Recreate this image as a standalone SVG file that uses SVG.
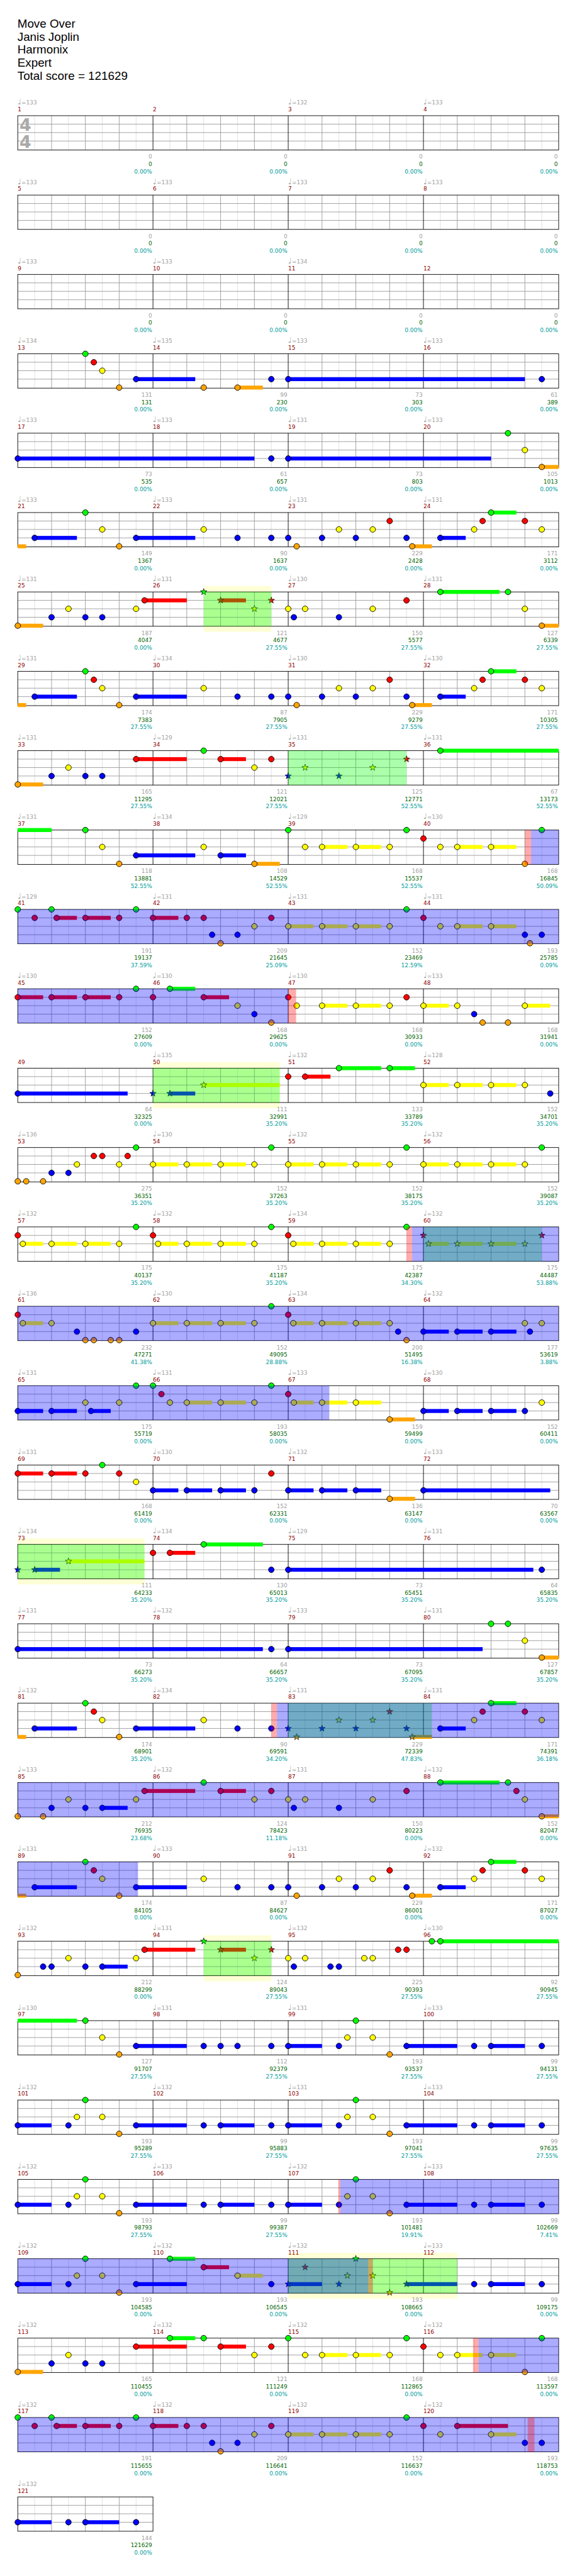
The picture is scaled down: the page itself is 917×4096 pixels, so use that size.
<svg xmlns="http://www.w3.org/2000/svg" xmlns:xlink="http://www.w3.org/1999/xlink" width="917" height="4096" viewBox="0 0 917 4096">
<style>
.t{font-family:"DejaVu Sans",sans-serif;font-size:10px}
.ti{font-family:"Liberation Sans",Arial,sans-serif;font-size:21px;fill:#000}
.tp{fill:#a0a0a0}
.q{font-size:14px}
.mn{fill:#8b0000}
.sc{text-anchor:end}
.s1{fill:#a0a0a0}
.s2{fill:#006400}
.s3{fill:#009c9c}
.ts{font-family:"DejaVu Sans",sans-serif;font-weight:bold;font-size:30px;fill:#aaaaaa}
.gl{stroke:#dddddd;stroke-width:1;fill:none}
.gd{stroke:#999999;stroke-width:1;fill:none}
.gb{stroke:#000;stroke-width:1;fill:none}
.g{fill:#00ff00}.r{fill:#ff0000}.y{fill:#ffff00}.b{fill:#0000ff}.o{fill:#ffa500}
.od{fill:#0000ff;fill-opacity:.33}
.sp{fill:#00ff00;fill-opacity:.33}
.pk{fill:#ff0000;fill-opacity:.33}
.ye{fill:#ffffd6}
</style>
<defs>
<circle id="c" r="5" stroke="#000" stroke-width="1"/>
<path id="s" d="M0,-6L1.411,-1.942L5.706,-1.854L2.283,0.742L3.527,4.854L0,2.4L-3.527,4.854L-2.283,0.742L-5.706,-1.854L-1.411,-1.942Z" stroke="#000" stroke-width="0.8"/>
<g id="grid">
<path class="gl" d="M30 0V61M90 0V61M150 0V61M210 0V61M270 0V61M330 0V61M390 0V61M450 0V61M510 0V61M570 0V61M630 0V61M690 0V61M750 0V61M810 0V61M870 0V61M930 0V61"/>
<path class="gd" d="M0 15H960M0 30H960M0 45H960M60 0V61M120 0V61M180 0V61M300 0V61M360 0V61M420 0V61M540 0V61M600 0V61M660 0V61M780 0V61M840 0V61M900 0V61"/>
<path class="gb" d="M240 0V61M480 0V61M720 0V61"/>
<rect class="gb" x="0" y="0" width="960" height="61"/>
</g>
<g id="grid1">
<path class="gl" d="M30 0V61M90 0V61M150 0V61M210 0V61"/>
<path class="gd" d="M0 15H240M0 30H240M0 45H240M60 0V61M120 0V61M180 0V61"/>
<rect class="gb" x="0" y="0" width="240" height="61"/>
</g>
</defs>
<rect width="917" height="4096" fill="#fff"/>
<g transform="scale(0.8955 0.8951)">
<g id="title" class="ti">
<text x="31" y="49.5">Move Over</text>
<text x="31" y="72.5">Janis Joplin</text>
<text x="31" y="95.5">Harmonix</text>
<text x="31" y="118.5">Expert</text>
<text x="31" y="141.5">Total score = 121629</text>
</g>

<g id="row1" transform="translate(31.5,205.5)" class="t">
<use href="#grid"/>
<text class="ts" x="3" y="26.5">4</text><text class="ts" x="3" y="56.5">4</text>
<text class="tp" x="0" y="-19.5"><tspan class="q">♩</tspan>=133</text>
<text class="tp" x="480" y="-19.5"><tspan class="q">♩</tspan>=132</text>
<text class="tp" x="720" y="-19.5"><tspan class="q">♩</tspan>=133</text>
<text class="mn" x="0" y="-7.5">1</text><text class="mn" x="240" y="-7.5">2</text><text class="mn" x="480" y="-7.5">3</text><text class="mn" x="720" y="-7.5">4</text>
<text class="sc" y="76.5"><tspan class="s1" x="238.5">0</tspan><tspan class="s2" x="238.5" dy="13">0</tspan><tspan class="s3" x="238.5" dy="13">0.00%</tspan></text>
<text class="sc" y="76.5"><tspan class="s1" x="478.5">0</tspan><tspan class="s2" x="478.5" dy="13">0</tspan><tspan class="s3" x="478.5" dy="13">0.00%</tspan></text>
<text class="sc" y="76.5"><tspan class="s1" x="718.5">0</tspan><tspan class="s2" x="718.5" dy="13">0</tspan><tspan class="s3" x="718.5" dy="13">0.00%</tspan></text>
<text class="sc" y="76.5"><tspan class="s1" x="958.5">0</tspan><tspan class="s2" x="958.5" dy="13">0</tspan><tspan class="s3" x="958.5" dy="13">0.00%</tspan></text>
</g>

<g id="row2" transform="translate(31.5,346.5)" class="t">
<use href="#grid"/>
<text class="tp" x="0" y="-19.5"><tspan class="q">♩</tspan>=133</text>
<text class="tp" x="240" y="-19.5"><tspan class="q">♩</tspan>=133</text>
<text class="tp" x="480" y="-19.5"><tspan class="q">♩</tspan>=133</text>
<text class="tp" x="720" y="-19.5"><tspan class="q">♩</tspan>=133</text>
<text class="mn" x="0" y="-7.5">5</text><text class="mn" x="240" y="-7.5">6</text><text class="mn" x="480" y="-7.5">7</text><text class="mn" x="720" y="-7.5">8</text>
<text class="sc" y="76.5"><tspan class="s1" x="238.5">0</tspan><tspan class="s2" x="238.5" dy="13">0</tspan><tspan class="s3" x="238.5" dy="13">0.00%</tspan></text>
<text class="sc" y="76.5"><tspan class="s1" x="478.5">0</tspan><tspan class="s2" x="478.5" dy="13">0</tspan><tspan class="s3" x="478.5" dy="13">0.00%</tspan></text>
<text class="sc" y="76.5"><tspan class="s1" x="718.5">0</tspan><tspan class="s2" x="718.5" dy="13">0</tspan><tspan class="s3" x="718.5" dy="13">0.00%</tspan></text>
<text class="sc" y="76.5"><tspan class="s1" x="958.5">0</tspan><tspan class="s2" x="958.5" dy="13">0</tspan><tspan class="s3" x="958.5" dy="13">0.00%</tspan></text>
</g>

<g id="row3" transform="translate(31.5,487.5)" class="t">
<use href="#grid"/>
<text class="tp" x="0" y="-19.5"><tspan class="q">♩</tspan>=133</text>
<text class="tp" x="240" y="-19.5"><tspan class="q">♩</tspan>=133</text>
<text class="tp" x="480" y="-19.5"><tspan class="q">♩</tspan>=134</text>
<text class="mn" x="0" y="-7.5">9</text><text class="mn" x="240" y="-7.5">10</text><text class="mn" x="480" y="-7.5">11</text><text class="mn" x="720" y="-7.5">12</text>
<text class="sc" y="76.5"><tspan class="s1" x="238.5">0</tspan><tspan class="s2" x="238.5" dy="13">0</tspan><tspan class="s3" x="238.5" dy="13">0.00%</tspan></text>
<text class="sc" y="76.5"><tspan class="s1" x="478.5">0</tspan><tspan class="s2" x="478.5" dy="13">0</tspan><tspan class="s3" x="478.5" dy="13">0.00%</tspan></text>
<text class="sc" y="76.5"><tspan class="s1" x="718.5">0</tspan><tspan class="s2" x="718.5" dy="13">0</tspan><tspan class="s3" x="718.5" dy="13">0.00%</tspan></text>
<text class="sc" y="76.5"><tspan class="s1" x="958.5">0</tspan><tspan class="s2" x="958.5" dy="13">0</tspan><tspan class="s3" x="958.5" dy="13">0.00%</tspan></text>
</g>

<g id="row4" transform="translate(31.5,628.5)" class="t">
<use href="#grid"/>
<text class="tp" x="0" y="-19.5"><tspan class="q">♩</tspan>=134</text>
<text class="tp" x="240" y="-19.5"><tspan class="q">♩</tspan>=135</text>
<text class="tp" x="480" y="-19.5"><tspan class="q">♩</tspan>=133</text>
<text class="tp" x="720" y="-19.5"><tspan class="q">♩</tspan>=133</text>
<text class="mn" x="0" y="-7.5">13</text><text class="mn" x="240" y="-7.5">14</text><text class="mn" x="480" y="-7.5">15</text><text class="mn" x="720" y="-7.5">16</text>
<text class="sc" y="76.5"><tspan class="s1" x="238.5">131</tspan><tspan class="s2" x="238.5" dy="13">131</tspan><tspan class="s3" x="238.5" dy="13">0.00%</tspan></text>
<text class="sc" y="76.5"><tspan class="s1" x="478.5">99</tspan><tspan class="s2" x="478.5" dy="13">230</tspan><tspan class="s3" x="478.5" dy="13">0.00%</tspan></text>
<text class="sc" y="76.5"><tspan class="s1" x="718.5">73</tspan><tspan class="s2" x="718.5" dy="13">303</tspan><tspan class="s3" x="718.5" dy="13">0.00%</tspan></text>
<text class="sc" y="76.5"><tspan class="s1" x="958.5">61</tspan><tspan class="s2" x="958.5" dy="13">389</tspan><tspan class="s3" x="958.5" dy="13">0.00%</tspan></text>
<rect class="b" x="210" y="41.5" width="105" height="7"/><rect class="o" x="390" y="56.5" width="45" height="7"/><rect class="b" x="480" y="41.5" width="420" height="7"/>
<use href="#c" class="g" x="120" y="0"/><use href="#c" class="r" x="135" y="15"/><use href="#c" class="y" x="150" y="30"/><use href="#c" class="o" x="180" y="60"/><use href="#c" class="b" x="210" y="45"/><use href="#c" class="o" x="330" y="60"/><use href="#c" class="o" x="390" y="60"/><use href="#c" class="b" x="450" y="45"/><use href="#c" class="b" x="480" y="45"/><use href="#c" class="b" x="930" y="45"/>
</g>

<g id="row5" transform="translate(31.5,769.5)" class="t">
<use href="#grid"/>
<text class="tp" x="0" y="-19.5"><tspan class="q">♩</tspan>=133</text>
<text class="tp" x="240" y="-19.5"><tspan class="q">♩</tspan>=133</text>
<text class="tp" x="480" y="-19.5"><tspan class="q">♩</tspan>=131</text>
<text class="tp" x="720" y="-19.5"><tspan class="q">♩</tspan>=133</text>
<text class="mn" x="0" y="-7.5">17</text><text class="mn" x="240" y="-7.5">18</text><text class="mn" x="480" y="-7.5">19</text><text class="mn" x="720" y="-7.5">20</text>
<text class="sc" y="76.5"><tspan class="s1" x="238.5">73</tspan><tspan class="s2" x="238.5" dy="13">535</tspan><tspan class="s3" x="238.5" dy="13">0.00%</tspan></text>
<text class="sc" y="76.5"><tspan class="s1" x="478.5">61</tspan><tspan class="s2" x="478.5" dy="13">657</tspan><tspan class="s3" x="478.5" dy="13">0.00%</tspan></text>
<text class="sc" y="76.5"><tspan class="s1" x="718.5">73</tspan><tspan class="s2" x="718.5" dy="13">803</tspan><tspan class="s3" x="718.5" dy="13">0.00%</tspan></text>
<text class="sc" y="76.5"><tspan class="s1" x="958.5">105</tspan><tspan class="s2" x="958.5" dy="13">1013</tspan><tspan class="s3" x="958.5" dy="13">0.00%</tspan></text>
<rect class="b" x="0" y="41.5" width="420" height="7"/><rect class="b" x="480" y="41.5" width="360" height="7"/><rect class="o" x="930" y="56.5" width="30" height="7"/>
<use href="#c" class="b" x="0" y="45"/><use href="#c" class="b" x="450" y="45"/><use href="#c" class="b" x="480" y="45"/><use href="#c" class="g" x="870" y="0"/><use href="#c" class="y" x="900" y="30"/><use href="#c" class="o" x="930" y="60"/>
</g>

<g id="row6" transform="translate(31.5,910.5)" class="t">
<use href="#grid"/>
<text class="tp" x="0" y="-19.5"><tspan class="q">♩</tspan>=133</text>
<text class="tp" x="240" y="-19.5"><tspan class="q">♩</tspan>=133</text>
<text class="tp" x="480" y="-19.5"><tspan class="q">♩</tspan>=131</text>
<text class="tp" x="720" y="-19.5"><tspan class="q">♩</tspan>=131</text>
<text class="mn" x="0" y="-7.5">21</text><text class="mn" x="240" y="-7.5">22</text><text class="mn" x="480" y="-7.5">23</text><text class="mn" x="720" y="-7.5">24</text>
<text class="sc" y="76.5"><tspan class="s1" x="238.5">149</tspan><tspan class="s2" x="238.5" dy="13">1367</tspan><tspan class="s3" x="238.5" dy="13">0.00%</tspan></text>
<text class="sc" y="76.5"><tspan class="s1" x="478.5">90</tspan><tspan class="s2" x="478.5" dy="13">1637</tspan><tspan class="s3" x="478.5" dy="13">0.00%</tspan></text>
<text class="sc" y="76.5"><tspan class="s1" x="718.5">229</tspan><tspan class="s2" x="718.5" dy="13">2428</tspan><tspan class="s3" x="718.5" dy="13">0.00%</tspan></text>
<text class="sc" y="76.5"><tspan class="s1" x="958.5">171</tspan><tspan class="s2" x="958.5" dy="13">3112</tspan><tspan class="s3" x="958.5" dy="13">0.00%</tspan></text>
<rect class="o" x="0" y="56.5" width="15" height="7"/><rect class="b" x="30" y="41.5" width="75" height="7"/><rect class="b" x="210" y="41.5" width="105" height="7"/><rect class="o" x="700" y="56.5" width="35" height="7"/><rect class="b" x="750" y="41.5" width="45" height="7"/><rect class="g" x="840" y="-3.5" width="45" height="7"/>
<use href="#c" class="b" x="30" y="45"/><use href="#c" class="g" x="120" y="0"/><use href="#c" class="y" x="150" y="30"/><use href="#c" class="o" x="180" y="60"/><use href="#c" class="b" x="210" y="45"/><use href="#c" class="y" x="330" y="30"/><use href="#c" class="b" x="390" y="45"/><use href="#c" class="b" x="450" y="45"/><use href="#c" class="b" x="480" y="45"/><use href="#c" class="o" x="495" y="60"/><use href="#c" class="b" x="540" y="45"/><use href="#c" class="y" x="570" y="30"/><use href="#c" class="b" x="600" y="45"/><use href="#c" class="y" x="630" y="30"/><use href="#c" class="r" x="660" y="15"/><use href="#c" class="b" x="690" y="45"/><use href="#c" class="o" x="700" y="60"/><use href="#c" class="b" x="750" y="45"/><use href="#c" class="y" x="810" y="30"/><use href="#c" class="r" x="825" y="15"/><use href="#c" class="g" x="840" y="0"/><use href="#c" class="r" x="900" y="15"/><use href="#c" class="y" x="930" y="30"/>
</g>

<g id="row7" transform="translate(31.5,1051.5)" class="t">
<rect class="ye" x="330" y="-10.5" width="120" height="81.5"/>
<use href="#grid"/>
<text class="tp" x="0" y="-19.5"><tspan class="q">♩</tspan>=131</text>
<text class="tp" x="240" y="-19.5"><tspan class="q">♩</tspan>=131</text>
<text class="tp" x="480" y="-19.5"><tspan class="q">♩</tspan>=130</text>
<text class="tp" x="720" y="-19.5"><tspan class="q">♩</tspan>=131</text>
<text class="mn" x="0" y="-7.5">25</text><text class="mn" x="240" y="-7.5">26</text><text class="mn" x="480" y="-7.5">27</text><text class="mn" x="720" y="-7.5">28</text>
<text class="sc" y="76.5"><tspan class="s1" x="238.5">187</tspan><tspan class="s2" x="238.5" dy="13">4047</tspan><tspan class="s3" x="238.5" dy="13">0.00%</tspan></text>
<text class="sc" y="76.5"><tspan class="s1" x="478.5">121</tspan><tspan class="s2" x="478.5" dy="13">4677</tspan><tspan class="s3" x="478.5" dy="13">27.55%</tspan></text>
<text class="sc" y="76.5"><tspan class="s1" x="718.5">150</tspan><tspan class="s2" x="718.5" dy="13">5577</tspan><tspan class="s3" x="718.5" dy="13">27.55%</tspan></text>
<text class="sc" y="76.5"><tspan class="s1" x="958.5">127</tspan><tspan class="s2" x="958.5" dy="13">6339</tspan><tspan class="s3" x="958.5" dy="13">27.55%</tspan></text>
<rect class="o" x="0" y="56.5" width="45" height="7"/><rect class="r" x="225" y="11.5" width="75" height="7"/><rect class="r" x="360" y="11.5" width="45" height="7"/><rect class="g" x="750" y="-3.5" width="105" height="7"/><rect class="o" x="930" y="56.5" width="30" height="7"/>
<use href="#c" class="o" x="0" y="60"/><use href="#c" class="b" x="60" y="45"/><use href="#c" class="y" x="90" y="30"/><use href="#c" class="b" x="120" y="45"/><use href="#c" class="b" x="150" y="45"/><use href="#c" class="y" x="210" y="30"/><use href="#c" class="r" x="225" y="15"/>
<use href="#s" class="g" x="330" y="0"/><use href="#s" class="r" x="360" y="15"/><use href="#s" class="y" x="420" y="30"/><use href="#s" class="r" x="450" y="15"/>
<use href="#c" class="y" x="480" y="30"/><use href="#c" class="b" x="490" y="45"/><use href="#c" class="y" x="510" y="30"/><use href="#c" class="b" x="570" y="45"/><use href="#c" class="y" x="630" y="30"/><use href="#c" class="r" x="690" y="15"/><use href="#c" class="g" x="750" y="0"/><use href="#c" class="g" x="870" y="0"/><use href="#c" class="y" x="900" y="30"/><use href="#c" class="o" x="930" y="60"/>
<rect class="sp" x="330" y="0" width="120" height="61"/>
</g>

<g id="row8" transform="translate(31.5,1192.5)" class="t">
<use href="#grid"/>
<text class="tp" x="0" y="-19.5"><tspan class="q">♩</tspan>=131</text>
<text class="tp" x="240" y="-19.5"><tspan class="q">♩</tspan>=134</text>
<text class="tp" x="480" y="-19.5"><tspan class="q">♩</tspan>=130</text>
<text class="tp" x="720" y="-19.5"><tspan class="q">♩</tspan>=130</text>
<text class="mn" x="0" y="-7.5">29</text><text class="mn" x="240" y="-7.5">30</text><text class="mn" x="480" y="-7.5">31</text><text class="mn" x="720" y="-7.5">32</text>
<text class="sc" y="76.5"><tspan class="s1" x="238.5">174</tspan><tspan class="s2" x="238.5" dy="13">7383</tspan><tspan class="s3" x="238.5" dy="13">27.55%</tspan></text>
<text class="sc" y="76.5"><tspan class="s1" x="478.5">87</tspan><tspan class="s2" x="478.5" dy="13">7905</tspan><tspan class="s3" x="478.5" dy="13">27.55%</tspan></text>
<text class="sc" y="76.5"><tspan class="s1" x="718.5">229</tspan><tspan class="s2" x="718.5" dy="13">9279</tspan><tspan class="s3" x="718.5" dy="13">27.55%</tspan></text>
<text class="sc" y="76.5"><tspan class="s1" x="958.5">171</tspan><tspan class="s2" x="958.5" dy="13">10305</tspan><tspan class="s3" x="958.5" dy="13">27.55%</tspan></text>
<rect class="o" x="0" y="56.5" width="15" height="7"/><rect class="b" x="30" y="41.5" width="75" height="7"/><rect class="b" x="210" y="41.5" width="90" height="7"/><rect class="o" x="700" y="56.5" width="35" height="7"/><rect class="b" x="750" y="41.5" width="45" height="7"/><rect class="g" x="840" y="-3.5" width="45" height="7"/>
<use href="#c" class="b" x="30" y="45"/><use href="#c" class="g" x="120" y="0"/><use href="#c" class="r" x="135" y="15"/><use href="#c" class="y" x="150" y="30"/><use href="#c" class="o" x="180" y="60"/><use href="#c" class="b" x="210" y="45"/><use href="#c" class="y" x="330" y="30"/><use href="#c" class="b" x="390" y="45"/><use href="#c" class="b" x="450" y="45"/><use href="#c" class="b" x="480" y="45"/><use href="#c" class="o" x="495" y="60"/><use href="#c" class="b" x="540" y="45"/><use href="#c" class="y" x="570" y="30"/><use href="#c" class="b" x="600" y="45"/><use href="#c" class="y" x="630" y="30"/><use href="#c" class="r" x="660" y="15"/><use href="#c" class="b" x="690" y="45"/><use href="#c" class="o" x="700" y="60"/><use href="#c" class="b" x="750" y="45"/><use href="#c" class="y" x="810" y="30"/><use href="#c" class="r" x="825" y="15"/><use href="#c" class="g" x="840" y="0"/><use href="#c" class="r" x="900" y="15"/><use href="#c" class="y" x="930" y="30"/>
</g>

<g id="row9" transform="translate(31.5,1333.5)" class="t">
<use href="#grid"/>
<text class="tp" x="0" y="-19.5"><tspan class="q">♩</tspan>=131</text>
<text class="tp" x="240" y="-19.5"><tspan class="q">♩</tspan>=129</text>
<text class="tp" x="480" y="-19.5"><tspan class="q">♩</tspan>=131</text>
<text class="tp" x="720" y="-19.5"><tspan class="q">♩</tspan>=131</text>
<text class="mn" x="0" y="-7.5">33</text><text class="mn" x="240" y="-7.5">34</text><text class="mn" x="480" y="-7.5">35</text><text class="mn" x="720" y="-7.5">36</text>
<text class="sc" y="76.5"><tspan class="s1" x="238.5">165</tspan><tspan class="s2" x="238.5" dy="13">11295</tspan><tspan class="s3" x="238.5" dy="13">27.55%</tspan></text>
<text class="sc" y="76.5"><tspan class="s1" x="478.5">121</tspan><tspan class="s2" x="478.5" dy="13">12021</tspan><tspan class="s3" x="478.5" dy="13">27.55%</tspan></text>
<text class="sc" y="76.5"><tspan class="s1" x="718.5">125</tspan><tspan class="s2" x="718.5" dy="13">12771</tspan><tspan class="s3" x="718.5" dy="13">52.55%</tspan></text>
<text class="sc" y="76.5"><tspan class="s1" x="958.5">67</tspan><tspan class="s2" x="958.5" dy="13">13173</tspan><tspan class="s3" x="958.5" dy="13">52.55%</tspan></text>
<rect class="o" x="0" y="56.5" width="45" height="7"/><rect class="r" x="210" y="11.5" width="90" height="7"/><rect class="r" x="360" y="11.5" width="45" height="7"/><rect class="g" x="750" y="-3.5" width="210" height="7"/>
<use href="#c" class="o" x="0" y="60"/><use href="#c" class="b" x="60" y="45"/><use href="#c" class="y" x="90" y="30"/><use href="#c" class="b" x="120" y="45"/><use href="#c" class="b" x="150" y="45"/><use href="#c" class="r" x="210" y="15"/><use href="#c" class="g" x="330" y="0"/><use href="#c" class="r" x="360" y="15"/><use href="#c" class="y" x="420" y="30"/><use href="#c" class="r" x="450" y="15"/>
<use href="#s" class="b" x="480" y="45"/><use href="#s" class="y" x="510" y="30"/><use href="#s" class="b" x="570" y="45"/><use href="#s" class="y" x="630" y="30"/><use href="#s" class="r" x="690" y="15"/>
<use href="#c" class="g" x="750" y="0"/>
<rect class="sp" x="480" y="0" width="210" height="61"/>
</g>

<g id="row10" transform="translate(31.5,1474.5)" class="t">
<use href="#grid"/>
<text class="tp" x="0" y="-19.5"><tspan class="q">♩</tspan>=131</text>
<text class="tp" x="240" y="-19.5"><tspan class="q">♩</tspan>=134</text>
<text class="tp" x="480" y="-19.5"><tspan class="q">♩</tspan>=129</text>
<text class="tp" x="720" y="-19.5"><tspan class="q">♩</tspan>=130</text>
<text class="mn" x="0" y="-7.5">37</text><text class="mn" x="240" y="-7.5">38</text><text class="mn" x="480" y="-7.5">39</text><text class="mn" x="720" y="-7.5">40</text>
<text class="sc" y="76.5"><tspan class="s1" x="238.5">118</tspan><tspan class="s2" x="238.5" dy="13">13881</tspan><tspan class="s3" x="238.5" dy="13">52.55%</tspan></text>
<text class="sc" y="76.5"><tspan class="s1" x="478.5">108</tspan><tspan class="s2" x="478.5" dy="13">14529</tspan><tspan class="s3" x="478.5" dy="13">52.55%</tspan></text>
<text class="sc" y="76.5"><tspan class="s1" x="718.5">168</tspan><tspan class="s2" x="718.5" dy="13">15537</tspan><tspan class="s3" x="718.5" dy="13">52.55%</tspan></text>
<text class="sc" y="76.5"><tspan class="s1" x="958.5">168</tspan><tspan class="s2" x="958.5" dy="13">16845</tspan><tspan class="s3" x="958.5" dy="13">50.09%</tspan></text>
<rect class="g" x="0" y="-3.5" width="60" height="7"/><rect class="b" x="210" y="41.5" width="105" height="7"/><rect class="b" x="360" y="41.5" width="45" height="7"/><rect class="o" x="420" y="56.5" width="45" height="7"/><rect class="y" x="540" y="26.5" width="45" height="7"/><rect class="y" x="600" y="26.5" width="45" height="7"/><rect class="y" x="780" y="26.5" width="45" height="7"/><rect class="y" x="840" y="26.5" width="45" height="7"/>
<use href="#c" class="g" x="120" y="0"/><use href="#c" class="y" x="150" y="30"/><use href="#c" class="o" x="180" y="60"/><use href="#c" class="b" x="210" y="45"/><use href="#c" class="y" x="330" y="30"/><use href="#c" class="b" x="360" y="45"/><use href="#c" class="o" x="420" y="60"/><use href="#c" class="g" x="480" y="0"/><use href="#c" class="y" x="510" y="30"/><use href="#c" class="y" x="540" y="30"/><use href="#c" class="y" x="600" y="30"/><use href="#c" class="y" x="660" y="30"/><use href="#c" class="g" x="690" y="0"/><use href="#c" class="r" x="720" y="15"/><use href="#c" class="y" x="750" y="30"/><use href="#c" class="y" x="780" y="30"/><use href="#c" class="y" x="840" y="30"/><use href="#c" class="o" x="900" y="60"/><use href="#c" class="g" x="930" y="0"/>
<rect class="pk" x="900" y="0" width="11" height="61"/><rect class="od" x="911" y="0" width="49" height="61"/>
</g>

<g id="row11" transform="translate(31.5,1615.5)" class="t">
<use href="#grid"/>
<text class="tp" x="0" y="-19.5"><tspan class="q">♩</tspan>=129</text>
<text class="tp" x="240" y="-19.5"><tspan class="q">♩</tspan>=131</text>
<text class="tp" x="480" y="-19.5"><tspan class="q">♩</tspan>=131</text>
<text class="tp" x="720" y="-19.5"><tspan class="q">♩</tspan>=131</text>
<text class="mn" x="0" y="-7.5">41</text><text class="mn" x="240" y="-7.5">42</text><text class="mn" x="480" y="-7.5">43</text><text class="mn" x="720" y="-7.5">44</text>
<text class="sc" y="76.5"><tspan class="s1" x="238.5">191</tspan><tspan class="s2" x="238.5" dy="13">19137</tspan><tspan class="s3" x="238.5" dy="13">37.59%</tspan></text>
<text class="sc" y="76.5"><tspan class="s1" x="478.5">209</tspan><tspan class="s2" x="478.5" dy="13">21645</tspan><tspan class="s3" x="478.5" dy="13">25.09%</tspan></text>
<text class="sc" y="76.5"><tspan class="s1" x="718.5">152</tspan><tspan class="s2" x="718.5" dy="13">23469</tspan><tspan class="s3" x="718.5" dy="13">12.59%</tspan></text>
<text class="sc" y="76.5"><tspan class="s1" x="958.5">193</tspan><tspan class="s2" x="958.5" dy="13">25785</tspan><tspan class="s3" x="958.5" dy="13">0.09%</tspan></text>
<rect class="r" x="69" y="11.5" width="36" height="7"/><rect class="r" x="120" y="11.5" width="45" height="7"/><rect class="r" x="240" y="11.5" width="45" height="7"/><rect class="y" x="480" y="26.5" width="45" height="7"/><rect class="y" x="540" y="26.5" width="45" height="7"/><rect class="y" x="600" y="26.5" width="45" height="7"/><rect class="y" x="780" y="26.5" width="45" height="7"/><rect class="y" x="840" y="26.5" width="45" height="7"/>
<use href="#c" class="g" x="0" y="0"/><use href="#c" class="r" x="30" y="15"/><use href="#c" class="g" x="60" y="0"/><use href="#c" class="r" x="69" y="15"/><use href="#c" class="r" x="120" y="15"/><use href="#c" class="r" x="180" y="15"/><use href="#c" class="g" x="210" y="0"/><use href="#c" class="r" x="240" y="15"/><use href="#c" class="r" x="300" y="15"/><use href="#c" class="r" x="330" y="15"/><use href="#c" class="b" x="345" y="45"/><use href="#c" class="o" x="360" y="60"/><use href="#c" class="b" x="390" y="45"/><use href="#c" class="y" x="420" y="30"/><use href="#c" class="r" x="450" y="15"/><use href="#c" class="y" x="480" y="30"/><use href="#c" class="y" x="540" y="30"/><use href="#c" class="y" x="600" y="30"/><use href="#c" class="y" x="660" y="30"/><use href="#c" class="g" x="690" y="0"/><use href="#c" class="r" x="720" y="15"/><use href="#c" class="y" x="750" y="30"/><use href="#c" class="y" x="780" y="30"/><use href="#c" class="y" x="840" y="30"/><use href="#c" class="b" x="900" y="45"/><use href="#c" class="o" x="909" y="60"/><use href="#c" class="b" x="930" y="45"/>
<rect class="od" x="0" y="0" width="960" height="61"/>
</g>

<g id="row12" transform="translate(31.5,1756.5)" class="t">
<use href="#grid"/>
<text class="tp" x="0" y="-19.5"><tspan class="q">♩</tspan>=130</text>
<text class="tp" x="240" y="-19.5"><tspan class="q">♩</tspan>=130</text>
<text class="tp" x="480" y="-19.5"><tspan class="q">♩</tspan>=130</text>
<text class="tp" x="720" y="-19.5"><tspan class="q">♩</tspan>=133</text>
<text class="mn" x="0" y="-7.5">45</text><text class="mn" x="240" y="-7.5">46</text><text class="mn" x="480" y="-7.5">47</text><text class="mn" x="720" y="-7.5">48</text>
<text class="sc" y="76.5"><tspan class="s1" x="238.5">152</tspan><tspan class="s2" x="238.5" dy="13">27609</tspan><tspan class="s3" x="238.5" dy="13">0.00%</tspan></text>
<text class="sc" y="76.5"><tspan class="s1" x="478.5">168</tspan><tspan class="s2" x="478.5" dy="13">29625</tspan><tspan class="s3" x="478.5" dy="13">0.00%</tspan></text>
<text class="sc" y="76.5"><tspan class="s1" x="718.5">168</tspan><tspan class="s2" x="718.5" dy="13">30933</tspan><tspan class="s3" x="718.5" dy="13">0.00%</tspan></text>
<text class="sc" y="76.5"><tspan class="s1" x="958.5">168</tspan><tspan class="s2" x="958.5" dy="13">31941</tspan><tspan class="s3" x="958.5" dy="13">0.00%</tspan></text>
<rect class="r" x="0" y="11.5" width="45" height="7"/><rect class="r" x="60" y="11.5" width="45" height="7"/><rect class="r" x="120" y="11.5" width="45" height="7"/><rect class="g" x="270" y="-3.5" width="45" height="7"/><rect class="r" x="330" y="11.5" width="45" height="7"/><rect class="y" x="540" y="26.5" width="45" height="7"/><rect class="y" x="600" y="26.5" width="45" height="7"/><rect class="y" x="720" y="26.5" width="45" height="7"/><rect class="y" x="900" y="26.5" width="45" height="7"/>
<use href="#c" class="r" x="0" y="15"/><use href="#c" class="r" x="60" y="15"/><use href="#c" class="r" x="120" y="15"/><use href="#c" class="r" x="180" y="15"/><use href="#c" class="g" x="210" y="0"/><use href="#c" class="r" x="240" y="15"/><use href="#c" class="g" x="270" y="0"/><use href="#c" class="r" x="330" y="15"/><use href="#c" class="y" x="390" y="30"/><use href="#c" class="b" x="420" y="45"/><use href="#c" class="o" x="450" y="60"/><use href="#c" class="r" x="480" y="15"/><use href="#c" class="y" x="495" y="30"/><use href="#c" class="y" x="540" y="30"/><use href="#c" class="y" x="600" y="30"/><use href="#c" class="y" x="660" y="30"/><use href="#c" class="r" x="690" y="15"/><use href="#c" class="y" x="720" y="30"/><use href="#c" class="y" x="780" y="30"/><use href="#c" class="b" x="810" y="45"/><use href="#c" class="o" x="825" y="60"/><use href="#c" class="o" x="870" y="60"/><use href="#c" class="y" x="900" y="30"/>
<rect class="od" x="0" y="0" width="480" height="61"/><rect class="pk" x="480" y="0" width="14" height="61"/>
</g>

<g id="row13" transform="translate(31.5,1897.5)" class="t">
<rect class="ye" x="240" y="-10.5" width="225" height="81.5"/>
<use href="#grid"/>
<text class="tp" x="240" y="-19.5"><tspan class="q">♩</tspan>=135</text>
<text class="tp" x="480" y="-19.5"><tspan class="q">♩</tspan>=132</text>
<text class="tp" x="720" y="-19.5"><tspan class="q">♩</tspan>=128</text>
<text class="mn" x="0" y="-7.5">49</text><text class="mn" x="240" y="-7.5">50</text><text class="mn" x="480" y="-7.5">51</text><text class="mn" x="720" y="-7.5">52</text>
<text class="sc" y="76.5"><tspan class="s1" x="238.5">64</tspan><tspan class="s2" x="238.5" dy="13">32325</tspan><tspan class="s3" x="238.5" dy="13">0.00%</tspan></text>
<text class="sc" y="76.5"><tspan class="s1" x="478.5">111</tspan><tspan class="s2" x="478.5" dy="13">32991</tspan><tspan class="s3" x="478.5" dy="13">35.20%</tspan></text>
<text class="sc" y="76.5"><tspan class="s1" x="718.5">133</tspan><tspan class="s2" x="718.5" dy="13">33789</tspan><tspan class="s3" x="718.5" dy="13">35.20%</tspan></text>
<text class="sc" y="76.5"><tspan class="s1" x="958.5">152</tspan><tspan class="s2" x="958.5" dy="13">34701</tspan><tspan class="s3" x="958.5" dy="13">35.20%</tspan></text>
<rect class="b" x="0" y="41.5" width="195" height="7"/><rect class="b" x="270" y="41.5" width="45" height="7"/><rect class="y" x="330" y="26.5" width="135" height="7"/><rect class="r" x="510" y="11.5" width="45" height="7"/><rect class="g" x="570" y="-3.5" width="75" height="7"/><rect class="g" x="660" y="-3.5" width="45" height="7"/><rect class="y" x="720" y="26.5" width="45" height="7"/><rect class="y" x="780" y="26.5" width="45" height="7"/><rect class="y" x="840" y="26.5" width="45" height="7"/>
<use href="#c" class="b" x="0" y="45"/><use href="#s" class="b" x="240" y="45"/><use href="#s" class="b" x="270" y="45"/><use href="#s" class="y" x="330" y="30"/>
<use href="#c" class="r" x="480" y="15"/><use href="#c" class="r" x="510" y="15"/><use href="#c" class="g" x="570" y="0"/><use href="#c" class="g" x="660" y="0"/><use href="#c" class="y" x="720" y="30"/><use href="#c" class="y" x="780" y="30"/><use href="#c" class="y" x="840" y="30"/><use href="#c" class="y" x="900" y="30"/><use href="#c" class="b" x="945" y="45"/>
<rect class="sp" x="240" y="0" width="225" height="61"/>
</g>

<g id="row14" transform="translate(31.5,2038.5)" class="t">
<use href="#grid"/>
<text class="tp" x="0" y="-19.5"><tspan class="q">♩</tspan>=136</text>
<text class="tp" x="240" y="-19.5"><tspan class="q">♩</tspan>=130</text>
<text class="tp" x="480" y="-19.5"><tspan class="q">♩</tspan>=132</text>
<text class="tp" x="720" y="-19.5"><tspan class="q">♩</tspan>=132</text>
<text class="mn" x="0" y="-7.5">53</text><text class="mn" x="240" y="-7.5">54</text><text class="mn" x="480" y="-7.5">55</text><text class="mn" x="720" y="-7.5">56</text>
<text class="sc" y="76.5"><tspan class="s1" x="238.5">275</tspan><tspan class="s2" x="238.5" dy="13">36351</tspan><tspan class="s3" x="238.5" dy="13">35.20%</tspan></text>
<text class="sc" y="76.5"><tspan class="s1" x="478.5">152</tspan><tspan class="s2" x="478.5" dy="13">37263</tspan><tspan class="s3" x="478.5" dy="13">35.20%</tspan></text>
<text class="sc" y="76.5"><tspan class="s1" x="718.5">152</tspan><tspan class="s2" x="718.5" dy="13">38175</tspan><tspan class="s3" x="718.5" dy="13">35.20%</tspan></text>
<text class="sc" y="76.5"><tspan class="s1" x="958.5">152</tspan><tspan class="s2" x="958.5" dy="13">39087</tspan><tspan class="s3" x="958.5" dy="13">35.20%</tspan></text>
<rect class="y" x="240" y="26.5" width="45" height="7"/><rect class="y" x="300" y="26.5" width="45" height="7"/><rect class="y" x="360" y="26.5" width="45" height="7"/><rect class="y" x="480" y="26.5" width="45" height="7"/><rect class="y" x="540" y="26.5" width="45" height="7"/><rect class="y" x="600" y="26.5" width="45" height="7"/><rect class="y" x="720" y="26.5" width="45" height="7"/><rect class="y" x="780" y="26.5" width="45" height="7"/><rect class="y" x="840" y="26.5" width="45" height="7"/>
<use href="#c" class="o" x="0" y="60"/><use href="#c" class="o" x="15" y="60"/><use href="#c" class="o" x="45" y="60"/><use href="#c" class="b" x="60" y="45"/><use href="#c" class="b" x="90" y="45"/><use href="#c" class="y" x="105" y="30"/><use href="#c" class="r" x="135" y="15"/><use href="#c" class="r" x="150" y="15"/><use href="#c" class="y" x="180" y="30"/><use href="#c" class="r" x="195" y="15"/><use href="#c" class="g" x="210" y="0"/><use href="#c" class="y" x="240" y="30"/><use href="#c" class="y" x="300" y="30"/><use href="#c" class="y" x="360" y="30"/><use href="#c" class="y" x="420" y="30"/><use href="#c" class="g" x="450" y="0"/><use href="#c" class="y" x="480" y="30"/><use href="#c" class="y" x="540" y="30"/><use href="#c" class="y" x="600" y="30"/><use href="#c" class="y" x="660" y="30"/><use href="#c" class="g" x="690" y="0"/><use href="#c" class="y" x="720" y="30"/><use href="#c" class="y" x="780" y="30"/><use href="#c" class="y" x="840" y="30"/><use href="#c" class="y" x="900" y="30"/><use href="#c" class="g" x="930" y="0"/>
</g>

<g id="row15" transform="translate(31.5,2179.5)" class="t">
<use href="#grid"/>
<text class="tp" x="0" y="-19.5"><tspan class="q">♩</tspan>=132</text>
<text class="tp" x="240" y="-19.5"><tspan class="q">♩</tspan>=132</text>
<text class="tp" x="480" y="-19.5"><tspan class="q">♩</tspan>=134</text>
<text class="tp" x="720" y="-19.5"><tspan class="q">♩</tspan>=132</text>
<text class="mn" x="0" y="-7.5">57</text><text class="mn" x="240" y="-7.5">58</text><text class="mn" x="480" y="-7.5">59</text><text class="mn" x="720" y="-7.5">60</text>
<text class="sc" y="76.5"><tspan class="s1" x="238.5">175</tspan><tspan class="s2" x="238.5" dy="13">40137</tspan><tspan class="s3" x="238.5" dy="13">35.20%</tspan></text>
<text class="sc" y="76.5"><tspan class="s1" x="478.5">175</tspan><tspan class="s2" x="478.5" dy="13">41187</tspan><tspan class="s3" x="478.5" dy="13">35.20%</tspan></text>
<text class="sc" y="76.5"><tspan class="s1" x="718.5">175</tspan><tspan class="s2" x="718.5" dy="13">42387</tspan><tspan class="s3" x="718.5" dy="13">34.30%</tspan></text>
<text class="sc" y="76.5"><tspan class="s1" x="958.5">175</tspan><tspan class="s2" x="958.5" dy="13">44487</tspan><tspan class="s3" x="958.5" dy="13">53.88%</tspan></text>
<rect class="y" x="9" y="26.5" width="36" height="7"/><rect class="y" x="60" y="26.5" width="45" height="7"/><rect class="y" x="120" y="26.5" width="45" height="7"/><rect class="y" x="249" y="26.5" width="36" height="7"/><rect class="y" x="300" y="26.5" width="45" height="7"/><rect class="y" x="360" y="26.5" width="45" height="7"/><rect class="y" x="489" y="26.5" width="36" height="7"/><rect class="y" x="540" y="26.5" width="45" height="7"/><rect class="y" x="600" y="26.5" width="45" height="7"/><rect class="y" x="729" y="26.5" width="36" height="7"/><rect class="y" x="780" y="26.5" width="45" height="7"/><rect class="y" x="840" y="26.5" width="45" height="7"/>
<use href="#c" class="r" x="0" y="15"/><use href="#c" class="y" x="9" y="30"/><use href="#c" class="y" x="60" y="30"/><use href="#c" class="y" x="120" y="30"/><use href="#c" class="y" x="180" y="30"/><use href="#c" class="g" x="210" y="0"/><use href="#c" class="r" x="240" y="15"/><use href="#c" class="y" x="249" y="30"/><use href="#c" class="y" x="300" y="30"/><use href="#c" class="y" x="360" y="30"/><use href="#c" class="y" x="420" y="30"/><use href="#c" class="g" x="450" y="0"/><use href="#c" class="r" x="480" y="15"/><use href="#c" class="y" x="489" y="30"/><use href="#c" class="y" x="540" y="30"/><use href="#c" class="y" x="600" y="30"/><use href="#c" class="y" x="660" y="30"/><use href="#c" class="g" x="690" y="0"/>
<use href="#s" class="r" x="720" y="15"/><use href="#s" class="y" x="729" y="30"/><use href="#s" class="y" x="780" y="30"/><use href="#s" class="y" x="840" y="30"/><use href="#s" class="y" x="900" y="30"/><use href="#s" class="r" x="930" y="15"/>
<rect class="sp" x="720" y="0" width="210" height="61"/><rect class="pk" x="690" y="0" width="10" height="61"/><rect class="od" x="700" y="0" width="260" height="61"/>
</g>

<g id="row16" transform="translate(31.5,2320.5)" class="t">
<use href="#grid"/>
<text class="tp" x="0" y="-19.5"><tspan class="q">♩</tspan>=136</text>
<text class="tp" x="240" y="-19.5"><tspan class="q">♩</tspan>=130</text>
<text class="tp" x="480" y="-19.5"><tspan class="q">♩</tspan>=134</text>
<text class="tp" x="720" y="-19.5"><tspan class="q">♩</tspan>=132</text>
<text class="mn" x="0" y="-7.5">61</text><text class="mn" x="240" y="-7.5">62</text><text class="mn" x="480" y="-7.5">63</text><text class="mn" x="720" y="-7.5">64</text>
<text class="sc" y="76.5"><tspan class="s1" x="238.5">232</tspan><tspan class="s2" x="238.5" dy="13">47271</tspan><tspan class="s3" x="238.5" dy="13">41.38%</tspan></text>
<text class="sc" y="76.5"><tspan class="s1" x="478.5">152</tspan><tspan class="s2" x="478.5" dy="13">49095</tspan><tspan class="s3" x="478.5" dy="13">28.88%</tspan></text>
<text class="sc" y="76.5"><tspan class="s1" x="718.5">200</tspan><tspan class="s2" x="718.5" dy="13">51495</tspan><tspan class="s3" x="718.5" dy="13">16.38%</tspan></text>
<text class="sc" y="76.5"><tspan class="s1" x="958.5">177</tspan><tspan class="s2" x="958.5" dy="13">53619</tspan><tspan class="s3" x="958.5" dy="13">3.88%</tspan></text>
<rect class="y" x="9" y="26.5" width="36" height="7"/><rect class="y" x="240" y="26.5" width="45" height="7"/><rect class="y" x="300" y="26.5" width="45" height="7"/><rect class="y" x="360" y="26.5" width="45" height="7"/><rect class="y" x="489" y="26.5" width="36" height="7"/><rect class="y" x="540" y="26.5" width="45" height="7"/><rect class="y" x="600" y="26.5" width="45" height="7"/><rect class="b" x="720" y="41.5" width="45" height="7"/><rect class="b" x="780" y="41.5" width="45" height="7"/><rect class="b" x="840" y="41.5" width="45" height="7"/>
<use href="#c" class="r" x="0" y="15"/><use href="#c" class="y" x="9" y="30"/><use href="#c" class="y" x="60" y="30"/><use href="#c" class="b" x="105" y="45"/><use href="#c" class="o" x="120" y="60"/><use href="#c" class="o" x="135" y="60"/><use href="#c" class="o" x="165" y="60"/><use href="#c" class="o" x="180" y="60"/><use href="#c" class="b" x="210" y="45"/><use href="#c" class="y" x="240" y="30"/><use href="#c" class="y" x="300" y="30"/><use href="#c" class="y" x="360" y="30"/><use href="#c" class="y" x="420" y="30"/><use href="#c" class="g" x="450" y="0"/><use href="#c" class="r" x="480" y="15"/><use href="#c" class="y" x="489" y="30"/><use href="#c" class="y" x="540" y="30"/><use href="#c" class="y" x="600" y="30"/><use href="#c" class="y" x="660" y="30"/><use href="#c" class="b" x="675" y="45"/><use href="#c" class="o" x="690" y="60"/><use href="#c" class="b" x="720" y="45"/><use href="#c" class="b" x="780" y="45"/><use href="#c" class="b" x="840" y="45"/><use href="#c" class="y" x="900" y="30"/><use href="#c" class="b" x="909" y="45"/><use href="#c" class="y" x="930" y="30"/>
<rect class="od" x="0" y="0" width="960" height="61"/>
</g>

<g id="row17" transform="translate(31.5,2461.5)" class="t">
<use href="#grid"/>
<text class="tp" x="0" y="-19.5"><tspan class="q">♩</tspan>=131</text>
<text class="tp" x="240" y="-19.5"><tspan class="q">♩</tspan>=131</text>
<text class="tp" x="480" y="-19.5"><tspan class="q">♩</tspan>=133</text>
<text class="tp" x="720" y="-19.5"><tspan class="q">♩</tspan>=130</text>
<text class="mn" x="0" y="-7.5">65</text><text class="mn" x="240" y="-7.5">66</text><text class="mn" x="480" y="-7.5">67</text><text class="mn" x="720" y="-7.5">68</text>
<text class="sc" y="76.5"><tspan class="s1" x="238.5">175</tspan><tspan class="s2" x="238.5" dy="13">55719</tspan><tspan class="s3" x="238.5" dy="13">0.00%</tspan></text>
<text class="sc" y="76.5"><tspan class="s1" x="478.5">193</tspan><tspan class="s2" x="478.5" dy="13">58035</tspan><tspan class="s3" x="478.5" dy="13">0.00%</tspan></text>
<text class="sc" y="76.5"><tspan class="s1" x="718.5">159</tspan><tspan class="s2" x="718.5" dy="13">59499</tspan><tspan class="s3" x="718.5" dy="13">0.00%</tspan></text>
<text class="sc" y="76.5"><tspan class="s1" x="958.5">152</tspan><tspan class="s2" x="958.5" dy="13">60411</tspan><tspan class="s3" x="958.5" dy="13">0.00%</tspan></text>
<rect class="b" x="0" y="41.5" width="45" height="7"/><rect class="b" x="60" y="41.5" width="45" height="7"/><rect class="b" x="130" y="41.5" width="35" height="7"/><rect class="y" x="300" y="26.5" width="45" height="7"/><rect class="y" x="360" y="26.5" width="45" height="7"/><rect class="y" x="490" y="26.5" width="35" height="7"/><rect class="y" x="540" y="26.5" width="45" height="7"/><rect class="y" x="600" y="26.5" width="45" height="7"/><rect class="o" x="660" y="56.5" width="45" height="7"/><rect class="b" x="720" y="41.5" width="45" height="7"/><rect class="b" x="780" y="41.5" width="45" height="7"/><rect class="b" x="840" y="41.5" width="45" height="7"/>
<use href="#c" class="b" x="0" y="45"/><use href="#c" class="b" x="60" y="45"/><use href="#c" class="y" x="120" y="30"/><use href="#c" class="b" x="130" y="45"/><use href="#c" class="y" x="180" y="30"/><use href="#c" class="g" x="210" y="0"/><use href="#c" class="g" x="240" y="0"/><use href="#c" class="r" x="255" y="15"/><use href="#c" class="y" x="270" y="30"/><use href="#c" class="y" x="300" y="30"/><use href="#c" class="y" x="360" y="30"/><use href="#c" class="y" x="420" y="30"/><use href="#c" class="g" x="450" y="0"/><use href="#c" class="r" x="480" y="15"/><use href="#c" class="y" x="490" y="30"/><use href="#c" class="y" x="540" y="30"/><use href="#c" class="y" x="600" y="30"/><use href="#c" class="o" x="660" y="60"/><use href="#c" class="b" x="720" y="45"/><use href="#c" class="b" x="780" y="45"/><use href="#c" class="b" x="840" y="45"/><use href="#c" class="b" x="900" y="45"/><use href="#c" class="y" x="930" y="30"/>
<rect class="od" x="0" y="0" width="553" height="61"/>
</g>

<g id="row18" transform="translate(31.5,2602.5)" class="t">
<use href="#grid"/>
<text class="tp" x="0" y="-19.5"><tspan class="q">♩</tspan>=131</text>
<text class="tp" x="240" y="-19.5"><tspan class="q">♩</tspan>=130</text>
<text class="tp" x="480" y="-19.5"><tspan class="q">♩</tspan>=132</text>
<text class="tp" x="720" y="-19.5"><tspan class="q">♩</tspan>=133</text>
<text class="mn" x="0" y="-7.5">69</text><text class="mn" x="240" y="-7.5">70</text><text class="mn" x="480" y="-7.5">71</text><text class="mn" x="720" y="-7.5">72</text>
<text class="sc" y="76.5"><tspan class="s1" x="238.5">168</tspan><tspan class="s2" x="238.5" dy="13">61419</tspan><tspan class="s3" x="238.5" dy="13">0.00%</tspan></text>
<text class="sc" y="76.5"><tspan class="s1" x="478.5">152</tspan><tspan class="s2" x="478.5" dy="13">62331</tspan><tspan class="s3" x="478.5" dy="13">0.00%</tspan></text>
<text class="sc" y="76.5"><tspan class="s1" x="718.5">136</tspan><tspan class="s2" x="718.5" dy="13">63147</tspan><tspan class="s3" x="718.5" dy="13">0.00%</tspan></text>
<text class="sc" y="76.5"><tspan class="s1" x="958.5">70</tspan><tspan class="s2" x="958.5" dy="13">63567</tspan><tspan class="s3" x="958.5" dy="13">0.00%</tspan></text>
<rect class="r" x="0" y="11.5" width="45" height="7"/><rect class="r" x="60" y="11.5" width="45" height="7"/><rect class="b" x="240" y="41.5" width="45" height="7"/><rect class="b" x="300" y="41.5" width="45" height="7"/><rect class="b" x="360" y="41.5" width="45" height="7"/><rect class="b" x="480" y="41.5" width="45" height="7"/><rect class="b" x="540" y="41.5" width="45" height="7"/><rect class="b" x="600" y="41.5" width="45" height="7"/><rect class="o" x="660" y="56.5" width="45" height="7"/><rect class="b" x="720" y="41.5" width="225" height="7"/>
<use href="#c" class="r" x="0" y="15"/><use href="#c" class="r" x="60" y="15"/><use href="#c" class="r" x="120" y="15"/><use href="#c" class="g" x="150" y="0"/><use href="#c" class="r" x="180" y="15"/><use href="#c" class="y" x="210" y="30"/><use href="#c" class="b" x="240" y="45"/><use href="#c" class="b" x="300" y="45"/><use href="#c" class="b" x="360" y="45"/><use href="#c" class="b" x="420" y="45"/><use href="#c" class="r" x="450" y="15"/><use href="#c" class="b" x="480" y="45"/><use href="#c" class="b" x="540" y="45"/><use href="#c" class="b" x="600" y="45"/><use href="#c" class="o" x="660" y="60"/><use href="#c" class="b" x="720" y="45"/>
</g>

<g id="row19" transform="translate(31.5,2743.5)" class="t">
<rect class="ye" x="0" y="-10.5" width="225" height="81.5"/>
<use href="#grid"/>
<text class="tp" x="0" y="-19.5"><tspan class="q">♩</tspan>=134</text>
<text class="tp" x="240" y="-19.5"><tspan class="q">♩</tspan>=134</text>
<text class="tp" x="480" y="-19.5"><tspan class="q">♩</tspan>=129</text>
<text class="tp" x="720" y="-19.5"><tspan class="q">♩</tspan>=131</text>
<text class="mn" x="0" y="-7.5">73</text><text class="mn" x="240" y="-7.5">74</text><text class="mn" x="480" y="-7.5">75</text><text class="mn" x="720" y="-7.5">76</text>
<text class="sc" y="76.5"><tspan class="s1" x="238.5">111</tspan><tspan class="s2" x="238.5" dy="13">64233</tspan><tspan class="s3" x="238.5" dy="13">35.20%</tspan></text>
<text class="sc" y="76.5"><tspan class="s1" x="478.5">130</tspan><tspan class="s2" x="478.5" dy="13">65013</tspan><tspan class="s3" x="478.5" dy="13">35.20%</tspan></text>
<text class="sc" y="76.5"><tspan class="s1" x="718.5">73</tspan><tspan class="s2" x="718.5" dy="13">65451</tspan><tspan class="s3" x="718.5" dy="13">35.20%</tspan></text>
<text class="sc" y="76.5"><tspan class="s1" x="958.5">64</tspan><tspan class="s2" x="958.5" dy="13">65835</tspan><tspan class="s3" x="958.5" dy="13">35.20%</tspan></text>
<rect class="b" x="30" y="41.5" width="45" height="7"/><rect class="y" x="90" y="26.5" width="135" height="7"/><rect class="r" x="270" y="11.5" width="45" height="7"/><rect class="g" x="330" y="-3.5" width="105" height="7"/><rect class="b" x="480" y="41.5" width="435" height="7"/>
<use href="#s" class="b" x="0" y="45"/><use href="#s" class="b" x="30" y="45"/><use href="#s" class="y" x="90" y="30"/>
<use href="#c" class="r" x="240" y="15"/><use href="#c" class="r" x="270" y="15"/><use href="#c" class="g" x="330" y="0"/><use href="#c" class="b" x="450" y="45"/><use href="#c" class="b" x="480" y="45"/><use href="#c" class="b" x="930" y="45"/>
<rect class="sp" x="0" y="0" width="225" height="61"/>
</g>

<g id="row20" transform="translate(31.5,2884.5)" class="t">
<use href="#grid"/>
<text class="tp" x="0" y="-19.5"><tspan class="q">♩</tspan>=131</text>
<text class="tp" x="240" y="-19.5"><tspan class="q">♩</tspan>=132</text>
<text class="tp" x="480" y="-19.5"><tspan class="q">♩</tspan>=133</text>
<text class="tp" x="720" y="-19.5"><tspan class="q">♩</tspan>=131</text>
<text class="mn" x="0" y="-7.5">77</text><text class="mn" x="240" y="-7.5">78</text><text class="mn" x="480" y="-7.5">79</text><text class="mn" x="720" y="-7.5">80</text>
<text class="sc" y="76.5"><tspan class="s1" x="238.5">73</tspan><tspan class="s2" x="238.5" dy="13">66273</tspan><tspan class="s3" x="238.5" dy="13">35.20%</tspan></text>
<text class="sc" y="76.5"><tspan class="s1" x="478.5">64</tspan><tspan class="s2" x="478.5" dy="13">66657</tspan><tspan class="s3" x="478.5" dy="13">35.20%</tspan></text>
<text class="sc" y="76.5"><tspan class="s1" x="718.5">73</tspan><tspan class="s2" x="718.5" dy="13">67095</tspan><tspan class="s3" x="718.5" dy="13">35.20%</tspan></text>
<text class="sc" y="76.5"><tspan class="s1" x="958.5">127</tspan><tspan class="s2" x="958.5" dy="13">67857</tspan><tspan class="s3" x="958.5" dy="13">35.20%</tspan></text>
<rect class="b" x="0" y="41.5" width="435" height="7"/><rect class="b" x="480" y="41.5" width="345" height="7"/><rect class="o" x="930" y="56.5" width="30" height="7"/>
<use href="#c" class="b" x="0" y="45"/><use href="#c" class="b" x="450" y="45"/><use href="#c" class="b" x="480" y="45"/><use href="#c" class="g" x="840" y="0"/><use href="#c" class="g" x="870" y="0"/><use href="#c" class="y" x="900" y="30"/><use href="#c" class="o" x="930" y="60"/>
</g>

<g id="row21" transform="translate(31.5,3025.5)" class="t">
<use href="#grid"/>
<text class="tp" x="0" y="-19.5"><tspan class="q">♩</tspan>=132</text>
<text class="tp" x="240" y="-19.5"><tspan class="q">♩</tspan>=134</text>
<text class="tp" x="480" y="-19.5"><tspan class="q">♩</tspan>=131</text>
<text class="tp" x="720" y="-19.5"><tspan class="q">♩</tspan>=131</text>
<text class="mn" x="0" y="-7.5">81</text><text class="mn" x="240" y="-7.5">82</text><text class="mn" x="480" y="-7.5">83</text><text class="mn" x="720" y="-7.5">84</text>
<text class="sc" y="76.5"><tspan class="s1" x="238.5">174</tspan><tspan class="s2" x="238.5" dy="13">68901</tspan><tspan class="s3" x="238.5" dy="13">35.20%</tspan></text>
<text class="sc" y="76.5"><tspan class="s1" x="478.5">90</tspan><tspan class="s2" x="478.5" dy="13">69591</tspan><tspan class="s3" x="478.5" dy="13">34.20%</tspan></text>
<text class="sc" y="76.5"><tspan class="s1" x="718.5">229</tspan><tspan class="s2" x="718.5" dy="13">72339</tspan><tspan class="s3" x="718.5" dy="13">47.83%</tspan></text>
<text class="sc" y="76.5"><tspan class="s1" x="958.5">171</tspan><tspan class="s2" x="958.5" dy="13">74391</tspan><tspan class="s3" x="958.5" dy="13">36.18%</tspan></text>
<rect class="o" x="0" y="56.5" width="15" height="7"/><rect class="b" x="30" y="41.5" width="75" height="7"/><rect class="b" x="210" y="41.5" width="105" height="7"/><rect class="o" x="700" y="56.5" width="35" height="7"/><rect class="b" x="750" y="41.5" width="45" height="7"/><rect class="g" x="840" y="-3.5" width="45" height="7"/>
<use href="#c" class="b" x="30" y="45"/><use href="#c" class="g" x="120" y="0"/><use href="#c" class="r" x="135" y="15"/><use href="#c" class="y" x="150" y="30"/><use href="#c" class="o" x="180" y="60"/><use href="#c" class="b" x="210" y="45"/><use href="#c" class="y" x="330" y="30"/><use href="#c" class="b" x="390" y="45"/><use href="#c" class="b" x="450" y="45"/>
<use href="#s" class="b" x="480" y="45"/><use href="#s" class="o" x="495" y="60"/><use href="#s" class="b" x="540" y="45"/><use href="#s" class="y" x="570" y="30"/><use href="#s" class="b" x="600" y="45"/><use href="#s" class="y" x="630" y="30"/><use href="#s" class="r" x="660" y="15"/><use href="#s" class="b" x="690" y="45"/><use href="#s" class="o" x="700" y="60"/>
<use href="#c" class="b" x="750" y="45"/><use href="#c" class="y" x="810" y="30"/><use href="#c" class="r" x="825" y="15"/><use href="#c" class="g" x="840" y="0"/><use href="#c" class="r" x="900" y="15"/><use href="#c" class="y" x="930" y="30"/>
<rect class="sp" x="480" y="0" width="255" height="61"/><rect class="pk" x="450" y="0" width="10" height="61"/><rect class="od" x="460" y="0" width="500" height="61"/>
</g>

<g id="row22" transform="translate(31.5,3166.5)" class="t">
<use href="#grid"/>
<text class="tp" x="0" y="-19.5"><tspan class="q">♩</tspan>=133</text>
<text class="tp" x="240" y="-19.5"><tspan class="q">♩</tspan>=132</text>
<text class="tp" x="480" y="-19.5"><tspan class="q">♩</tspan>=131</text>
<text class="tp" x="720" y="-19.5"><tspan class="q">♩</tspan>=132</text>
<text class="mn" x="0" y="-7.5">85</text><text class="mn" x="240" y="-7.5">86</text><text class="mn" x="480" y="-7.5">87</text><text class="mn" x="720" y="-7.5">88</text>
<text class="sc" y="76.5"><tspan class="s1" x="238.5">212</tspan><tspan class="s2" x="238.5" dy="13">76935</tspan><tspan class="s3" x="238.5" dy="13">23.68%</tspan></text>
<text class="sc" y="76.5"><tspan class="s1" x="478.5">124</tspan><tspan class="s2" x="478.5" dy="13">78423</tspan><tspan class="s3" x="478.5" dy="13">11.18%</tspan></text>
<text class="sc" y="76.5"><tspan class="s1" x="718.5">150</tspan><tspan class="s2" x="718.5" dy="13">80223</tspan><tspan class="s3" x="718.5" dy="13">0.00%</tspan></text>
<text class="sc" y="76.5"><tspan class="s1" x="958.5">152</tspan><tspan class="s2" x="958.5" dy="13">82047</tspan><tspan class="s3" x="958.5" dy="13">0.00%</tspan></text>
<rect class="b" x="150" y="41.5" width="45" height="7"/><rect class="r" x="225" y="11.5" width="90" height="7"/><rect class="r" x="360" y="11.5" width="45" height="7"/><rect class="g" x="750" y="-3.5" width="105" height="7"/><rect class="o" x="930" y="56.5" width="30" height="7"/>
<use href="#c" class="o" x="0" y="60"/><use href="#c" class="o" x="45" y="60"/><use href="#c" class="b" x="60" y="45"/><use href="#c" class="y" x="90" y="30"/><use href="#c" class="b" x="120" y="45"/><use href="#c" class="b" x="150" y="45"/><use href="#c" class="y" x="210" y="30"/><use href="#c" class="r" x="225" y="15"/><use href="#c" class="g" x="330" y="0"/><use href="#c" class="r" x="360" y="15"/><use href="#c" class="y" x="420" y="30"/><use href="#c" class="r" x="450" y="15"/><use href="#c" class="y" x="480" y="30"/><use href="#c" class="b" x="490" y="45"/><use href="#c" class="y" x="510" y="30"/><use href="#c" class="b" x="570" y="45"/><use href="#c" class="y" x="630" y="30"/><use href="#c" class="r" x="690" y="15"/><use href="#c" class="g" x="750" y="0"/><use href="#c" class="g" x="870" y="0"/><use href="#c" class="r" x="885" y="15"/><use href="#c" class="y" x="900" y="30"/><use href="#c" class="o" x="930" y="60"/>
<rect class="od" x="0" y="0" width="960" height="61"/>
</g>

<g id="row23" transform="translate(31.5,3307.5)" class="t">
<use href="#grid"/>
<text class="tp" x="0" y="-19.5"><tspan class="q">♩</tspan>=131</text>
<text class="tp" x="240" y="-19.5"><tspan class="q">♩</tspan>=133</text>
<text class="tp" x="480" y="-19.5"><tspan class="q">♩</tspan>=131</text>
<text class="tp" x="720" y="-19.5"><tspan class="q">♩</tspan>=132</text>
<text class="mn" x="0" y="-7.5">89</text><text class="mn" x="240" y="-7.5">90</text><text class="mn" x="480" y="-7.5">91</text><text class="mn" x="720" y="-7.5">92</text>
<text class="sc" y="76.5"><tspan class="s1" x="238.5">174</tspan><tspan class="s2" x="238.5" dy="13">84105</tspan><tspan class="s3" x="238.5" dy="13">0.00%</tspan></text>
<text class="sc" y="76.5"><tspan class="s1" x="478.5">87</tspan><tspan class="s2" x="478.5" dy="13">84627</tspan><tspan class="s3" x="478.5" dy="13">0.00%</tspan></text>
<text class="sc" y="76.5"><tspan class="s1" x="718.5">229</tspan><tspan class="s2" x="718.5" dy="13">86001</tspan><tspan class="s3" x="718.5" dy="13">0.00%</tspan></text>
<text class="sc" y="76.5"><tspan class="s1" x="958.5">171</tspan><tspan class="s2" x="958.5" dy="13">87027</tspan><tspan class="s3" x="958.5" dy="13">0.00%</tspan></text>
<rect class="o" x="0" y="56.5" width="15" height="7"/><rect class="b" x="30" y="41.5" width="75" height="7"/><rect class="b" x="210" y="41.5" width="90" height="7"/><rect class="o" x="700" y="56.5" width="35" height="7"/><rect class="b" x="750" y="41.5" width="45" height="7"/><rect class="g" x="840" y="-3.5" width="45" height="7"/>
<use href="#c" class="b" x="30" y="45"/><use href="#c" class="g" x="120" y="0"/><use href="#c" class="r" x="135" y="15"/><use href="#c" class="y" x="150" y="30"/><use href="#c" class="o" x="180" y="60"/><use href="#c" class="b" x="210" y="45"/><use href="#c" class="y" x="330" y="30"/><use href="#c" class="b" x="390" y="45"/><use href="#c" class="b" x="450" y="45"/><use href="#c" class="b" x="480" y="45"/><use href="#c" class="o" x="495" y="60"/><use href="#c" class="b" x="540" y="45"/><use href="#c" class="y" x="570" y="30"/><use href="#c" class="b" x="600" y="45"/><use href="#c" class="y" x="630" y="30"/><use href="#c" class="r" x="660" y="15"/><use href="#c" class="b" x="690" y="45"/><use href="#c" class="o" x="700" y="60"/><use href="#c" class="b" x="750" y="45"/><use href="#c" class="y" x="810" y="30"/><use href="#c" class="r" x="825" y="15"/><use href="#c" class="g" x="840" y="0"/><use href="#c" class="r" x="900" y="15"/><use href="#c" class="y" x="930" y="30"/>
<rect class="od" x="0" y="0" width="213.5" height="61"/>
</g>

<g id="row24" transform="translate(31.5,3448.5)" class="t">
<rect class="ye" x="330" y="-10.5" width="120" height="81.5"/>
<use href="#grid"/>
<text class="tp" x="0" y="-19.5"><tspan class="q">♩</tspan>=132</text>
<text class="tp" x="240" y="-19.5"><tspan class="q">♩</tspan>=131</text>
<text class="tp" x="480" y="-19.5"><tspan class="q">♩</tspan>=132</text>
<text class="tp" x="720" y="-19.5"><tspan class="q">♩</tspan>=130</text>
<text class="mn" x="0" y="-7.5">93</text><text class="mn" x="240" y="-7.5">94</text><text class="mn" x="480" y="-7.5">95</text><text class="mn" x="720" y="-7.5">96</text>
<text class="sc" y="76.5"><tspan class="s1" x="238.5">212</tspan><tspan class="s2" x="238.5" dy="13">88299</tspan><tspan class="s3" x="238.5" dy="13">0.00%</tspan></text>
<text class="sc" y="76.5"><tspan class="s1" x="478.5">124</tspan><tspan class="s2" x="478.5" dy="13">89043</tspan><tspan class="s3" x="478.5" dy="13">27.55%</tspan></text>
<text class="sc" y="76.5"><tspan class="s1" x="718.5">225</tspan><tspan class="s2" x="718.5" dy="13">90393</tspan><tspan class="s3" x="718.5" dy="13">27.55%</tspan></text>
<text class="sc" y="76.5"><tspan class="s1" x="958.5">92</tspan><tspan class="s2" x="958.5" dy="13">90945</tspan><tspan class="s3" x="958.5" dy="13">27.55%</tspan></text>
<rect class="b" x="150" y="41.5" width="45" height="7"/><rect class="r" x="225" y="11.5" width="90" height="7"/><rect class="r" x="360" y="11.5" width="45" height="7"/><rect class="g" x="750" y="-3.5" width="210" height="7"/>
<use href="#c" class="o" x="0" y="60"/><use href="#c" class="b" x="45" y="45"/><use href="#c" class="b" x="60" y="45"/><use href="#c" class="y" x="90" y="30"/><use href="#c" class="b" x="120" y="45"/><use href="#c" class="b" x="150" y="45"/><use href="#c" class="y" x="210" y="30"/><use href="#c" class="r" x="225" y="15"/>
<use href="#s" class="g" x="330" y="0"/><use href="#s" class="r" x="360" y="15"/><use href="#s" class="y" x="420" y="30"/><use href="#s" class="r" x="450" y="15"/>
<use href="#c" class="y" x="480" y="30"/><use href="#c" class="b" x="490" y="45"/><use href="#c" class="y" x="510" y="30"/><use href="#c" class="b" x="555" y="45"/><use href="#c" class="b" x="570" y="45"/><use href="#c" class="y" x="615" y="30"/><use href="#c" class="y" x="630" y="30"/><use href="#c" class="r" x="675" y="15"/><use href="#c" class="r" x="690" y="15"/><use href="#c" class="g" x="735" y="0"/><use href="#c" class="g" x="750" y="0"/>
<rect class="sp" x="330" y="0" width="120" height="61"/>
</g>

<g id="row25" transform="translate(31.5,3589.5)" class="t">
<use href="#grid"/>
<text class="tp" x="0" y="-19.5"><tspan class="q">♩</tspan>=130</text>
<text class="tp" x="240" y="-19.5"><tspan class="q">♩</tspan>=131</text>
<text class="tp" x="480" y="-19.5"><tspan class="q">♩</tspan>=131</text>
<text class="tp" x="720" y="-19.5"><tspan class="q">♩</tspan>=133</text>
<text class="mn" x="0" y="-7.5">97</text><text class="mn" x="240" y="-7.5">98</text><text class="mn" x="480" y="-7.5">99</text><text class="mn" x="720" y="-7.5">100</text>
<text class="sc" y="76.5"><tspan class="s1" x="238.5">127</tspan><tspan class="s2" x="238.5" dy="13">91707</tspan><tspan class="s3" x="238.5" dy="13">27.55%</tspan></text>
<text class="sc" y="76.5"><tspan class="s1" x="478.5">112</tspan><tspan class="s2" x="478.5" dy="13">92379</tspan><tspan class="s3" x="478.5" dy="13">27.55%</tspan></text>
<text class="sc" y="76.5"><tspan class="s1" x="718.5">193</tspan><tspan class="s2" x="718.5" dy="13">93537</tspan><tspan class="s3" x="718.5" dy="13">27.55%</tspan></text>
<text class="sc" y="76.5"><tspan class="s1" x="958.5">99</tspan><tspan class="s2" x="958.5" dy="13">94131</tspan><tspan class="s3" x="958.5" dy="13">27.55%</tspan></text>
<rect class="g" x="0" y="-3.5" width="105" height="7"/><rect class="b" x="210" y="41.5" width="90" height="7"/><rect class="b" x="480" y="41.5" width="60" height="7"/><rect class="b" x="690" y="41.5" width="90" height="7"/><rect class="b" x="840" y="41.5" width="60" height="7"/>
<use href="#c" class="g" x="120" y="0"/><use href="#c" class="y" x="150" y="30"/><use href="#c" class="o" x="180" y="60"/><use href="#c" class="b" x="210" y="45"/><use href="#c" class="b" x="330" y="45"/><use href="#c" class="b" x="360" y="45"/><use href="#c" class="b" x="390" y="45"/><use href="#c" class="b" x="450" y="45"/><use href="#c" class="b" x="480" y="45"/><use href="#c" class="b" x="570" y="45"/><use href="#c" class="y" x="585" y="30"/><use href="#c" class="g" x="600" y="0"/><use href="#c" class="y" x="630" y="30"/><use href="#c" class="o" x="660" y="60"/><use href="#c" class="b" x="690" y="45"/><use href="#c" class="b" x="810" y="45"/><use href="#c" class="b" x="840" y="45"/><use href="#c" class="b" x="930" y="45"/>
</g>

<g id="row26" transform="translate(31.5,3730.5)" class="t">
<use href="#grid"/>
<text class="tp" x="0" y="-19.5"><tspan class="q">♩</tspan>=132</text>
<text class="tp" x="240" y="-19.5"><tspan class="q">♩</tspan>=132</text>
<text class="tp" x="480" y="-19.5"><tspan class="q">♩</tspan>=131</text>
<text class="tp" x="720" y="-19.5"><tspan class="q">♩</tspan>=133</text>
<text class="mn" x="0" y="-7.5">101</text><text class="mn" x="240" y="-7.5">102</text><text class="mn" x="480" y="-7.5">103</text><text class="mn" x="720" y="-7.5">104</text>
<text class="sc" y="76.5"><tspan class="s1" x="238.5">193</tspan><tspan class="s2" x="238.5" dy="13">95289</tspan><tspan class="s3" x="238.5" dy="13">27.55%</tspan></text>
<text class="sc" y="76.5"><tspan class="s1" x="478.5">99</tspan><tspan class="s2" x="478.5" dy="13">95883</tspan><tspan class="s3" x="478.5" dy="13">27.55%</tspan></text>
<text class="sc" y="76.5"><tspan class="s1" x="718.5">193</tspan><tspan class="s2" x="718.5" dy="13">97041</tspan><tspan class="s3" x="718.5" dy="13">27.55%</tspan></text>
<text class="sc" y="76.5"><tspan class="s1" x="958.5">99</tspan><tspan class="s2" x="958.5" dy="13">97635</tspan><tspan class="s3" x="958.5" dy="13">27.55%</tspan></text>
<rect class="b" x="0" y="41.5" width="60" height="7"/><rect class="b" x="210" y="41.5" width="90" height="7"/><rect class="b" x="360" y="41.5" width="60" height="7"/><rect class="b" x="480" y="41.5" width="60" height="7"/><rect class="b" x="690" y="41.5" width="90" height="7"/><rect class="b" x="840" y="41.5" width="60" height="7"/>
<use href="#c" class="b" x="0" y="45"/><use href="#c" class="b" x="90" y="45"/><use href="#c" class="y" x="105" y="30"/><use href="#c" class="g" x="120" y="0"/><use href="#c" class="y" x="150" y="30"/><use href="#c" class="o" x="180" y="60"/><use href="#c" class="b" x="210" y="45"/><use href="#c" class="b" x="330" y="45"/><use href="#c" class="b" x="360" y="45"/><use href="#c" class="b" x="450" y="45"/><use href="#c" class="b" x="480" y="45"/><use href="#c" class="b" x="570" y="45"/><use href="#c" class="y" x="585" y="30"/><use href="#c" class="g" x="600" y="0"/><use href="#c" class="y" x="630" y="30"/><use href="#c" class="o" x="660" y="60"/><use href="#c" class="b" x="690" y="45"/><use href="#c" class="b" x="810" y="45"/><use href="#c" class="b" x="840" y="45"/><use href="#c" class="b" x="930" y="45"/>
</g>

<g id="row27" transform="translate(31.5,3871.5)" class="t">
<use href="#grid"/>
<text class="tp" x="0" y="-19.5"><tspan class="q">♩</tspan>=132</text>
<text class="tp" x="240" y="-19.5"><tspan class="q">♩</tspan>=133</text>
<text class="tp" x="480" y="-19.5"><tspan class="q">♩</tspan>=132</text>
<text class="tp" x="720" y="-19.5"><tspan class="q">♩</tspan>=133</text>
<text class="mn" x="0" y="-7.5">105</text><text class="mn" x="240" y="-7.5">106</text><text class="mn" x="480" y="-7.5">107</text><text class="mn" x="720" y="-7.5">108</text>
<text class="sc" y="76.5"><tspan class="s1" x="238.5">193</tspan><tspan class="s2" x="238.5" dy="13">98793</tspan><tspan class="s3" x="238.5" dy="13">27.55%</tspan></text>
<text class="sc" y="76.5"><tspan class="s1" x="478.5">99</tspan><tspan class="s2" x="478.5" dy="13">99387</tspan><tspan class="s3" x="478.5" dy="13">27.55%</tspan></text>
<text class="sc" y="76.5"><tspan class="s1" x="718.5">193</tspan><tspan class="s2" x="718.5" dy="13">101481</tspan><tspan class="s3" x="718.5" dy="13">19.91%</tspan></text>
<text class="sc" y="76.5"><tspan class="s1" x="958.5">99</tspan><tspan class="s2" x="958.5" dy="13">102669</tspan><tspan class="s3" x="958.5" dy="13">7.41%</tspan></text>
<rect class="b" x="0" y="41.5" width="60" height="7"/><rect class="b" x="210" y="41.5" width="90" height="7"/><rect class="b" x="360" y="41.5" width="60" height="7"/><rect class="b" x="480" y="41.5" width="60" height="7"/><rect class="b" x="690" y="41.5" width="90" height="7"/><rect class="b" x="840" y="41.5" width="60" height="7"/>
<use href="#c" class="b" x="0" y="45"/><use href="#c" class="b" x="90" y="45"/><use href="#c" class="y" x="105" y="30"/><use href="#c" class="g" x="120" y="0"/><use href="#c" class="y" x="150" y="30"/><use href="#c" class="o" x="180" y="60"/><use href="#c" class="b" x="210" y="45"/><use href="#c" class="b" x="330" y="45"/><use href="#c" class="b" x="360" y="45"/><use href="#c" class="b" x="450" y="45"/><use href="#c" class="b" x="480" y="45"/><use href="#c" class="b" x="570" y="45"/><use href="#c" class="y" x="585" y="30"/><use href="#c" class="g" x="600" y="0"/><use href="#c" class="y" x="630" y="30"/><use href="#c" class="o" x="660" y="60"/><use href="#c" class="b" x="690" y="45"/><use href="#c" class="b" x="810" y="45"/><use href="#c" class="b" x="840" y="45"/><use href="#c" class="b" x="930" y="45"/>
<rect class="pk" x="569" y="0" width="3.5" height="61"/><rect class="od" x="572.5" y="0" width="387.5" height="61"/>
</g>

<g id="row28" transform="translate(31.5,4012.5)" class="t">
<rect class="ye" x="480" y="-10.5" width="300" height="81.5"/>
<use href="#grid"/>
<text class="tp" x="0" y="-19.5"><tspan class="q">♩</tspan>=132</text>
<text class="tp" x="240" y="-19.5"><tspan class="q">♩</tspan>=132</text>
<text class="tp" x="480" y="-19.5"><tspan class="q">♩</tspan>=132</text>
<text class="tp" x="720" y="-19.5"><tspan class="q">♩</tspan>=133</text>
<text class="mn" x="0" y="-7.5">109</text><text class="mn" x="240" y="-7.5">110</text><text class="mn" x="480" y="-7.5">111</text><text class="mn" x="720" y="-7.5">112</text>
<text class="sc" y="76.5"><tspan class="s1" x="238.5">193</tspan><tspan class="s2" x="238.5" dy="13">104585</tspan><tspan class="s3" x="238.5" dy="13">0.00%</tspan></text>
<text class="sc" y="76.5"><tspan class="s1" x="478.5">193</tspan><tspan class="s2" x="478.5" dy="13">106545</tspan><tspan class="s3" x="478.5" dy="13">0.00%</tspan></text>
<text class="sc" y="76.5"><tspan class="s1" x="718.5">193</tspan><tspan class="s2" x="718.5" dy="13">108665</tspan><tspan class="s3" x="718.5" dy="13">0.00%</tspan></text>
<text class="sc" y="76.5"><tspan class="s1" x="958.5">99</tspan><tspan class="s2" x="958.5" dy="13">109175</tspan><tspan class="s3" x="958.5" dy="13">0.00%</tspan></text>
<rect class="b" x="0" y="41.5" width="60" height="7"/><rect class="b" x="210" y="41.5" width="90" height="7"/><rect class="g" x="270" y="-3.5" width="45" height="7"/><rect class="r" x="330" y="11.5" width="45" height="7"/><rect class="y" x="390" y="26.5" width="45" height="7"/><rect class="b" x="480" y="41.5" width="60" height="7"/><rect class="b" x="690" y="41.5" width="90" height="7"/><rect class="b" x="840" y="41.5" width="60" height="7"/>
<use href="#c" class="b" x="0" y="45"/><use href="#c" class="b" x="90" y="45"/><use href="#c" class="y" x="105" y="30"/><use href="#c" class="g" x="120" y="0"/><use href="#c" class="y" x="150" y="30"/><use href="#c" class="o" x="180" y="60"/><use href="#c" class="b" x="210" y="45"/><use href="#c" class="g" x="270" y="0"/><use href="#c" class="r" x="330" y="15"/><use href="#c" class="y" x="390" y="30"/><use href="#c" class="b" x="450" y="45"/>
<use href="#s" class="b" x="480" y="45"/><use href="#s" class="r" x="510" y="15"/><use href="#s" class="b" x="570" y="45"/><use href="#s" class="y" x="585" y="30"/><use href="#s" class="g" x="600" y="0"/><use href="#s" class="y" x="630" y="30"/><use href="#s" class="o" x="660" y="60"/><use href="#s" class="b" x="690" y="45"/>
<use href="#c" class="b" x="810" y="45"/><use href="#c" class="b" x="840" y="45"/><use href="#c" class="b" x="930" y="45"/>
<rect class="sp" x="480" y="0" width="300" height="61"/><rect class="od" x="0" y="0" width="622" height="61"/><rect class="pk" x="622" y="0" width="8" height="61"/>
</g>

<g id="row29" transform="translate(31.5,4153.5)" class="t">
<use href="#grid"/>
<text class="tp" x="0" y="-19.5"><tspan class="q">♩</tspan>=132</text>
<text class="tp" x="240" y="-19.5"><tspan class="q">♩</tspan>=132</text>
<text class="tp" x="480" y="-19.5"><tspan class="q">♩</tspan>=132</text>
<text class="tp" x="720" y="-19.5"><tspan class="q">♩</tspan>=132</text>
<text class="mn" x="0" y="-7.5">113</text><text class="mn" x="240" y="-7.5">114</text><text class="mn" x="480" y="-7.5">115</text><text class="mn" x="720" y="-7.5">116</text>
<text class="sc" y="76.5"><tspan class="s1" x="238.5">165</tspan><tspan class="s2" x="238.5" dy="13">110455</tspan><tspan class="s3" x="238.5" dy="13">0.00%</tspan></text>
<text class="sc" y="76.5"><tspan class="s1" x="478.5">121</tspan><tspan class="s2" x="478.5" dy="13">111249</tspan><tspan class="s3" x="478.5" dy="13">0.00%</tspan></text>
<text class="sc" y="76.5"><tspan class="s1" x="718.5">168</tspan><tspan class="s2" x="718.5" dy="13">112865</tspan><tspan class="s3" x="718.5" dy="13">0.00%</tspan></text>
<text class="sc" y="76.5"><tspan class="s1" x="958.5">168</tspan><tspan class="s2" x="958.5" dy="13">113597</tspan><tspan class="s3" x="958.5" dy="13">0.00%</tspan></text>
<rect class="o" x="0" y="56.5" width="45" height="7"/><rect class="r" x="210" y="11.5" width="90" height="7"/><rect class="g" x="270" y="-3.5" width="45" height="7"/><rect class="r" x="360" y="11.5" width="45" height="7"/><rect class="y" x="540" y="26.5" width="45" height="7"/><rect class="y" x="600" y="26.5" width="45" height="7"/><rect class="y" x="780" y="26.5" width="45" height="7"/><rect class="y" x="840" y="26.5" width="45" height="7"/>
<use href="#c" class="o" x="0" y="60"/><use href="#c" class="b" x="60" y="45"/><use href="#c" class="y" x="90" y="30"/><use href="#c" class="b" x="120" y="45"/><use href="#c" class="b" x="150" y="45"/><use href="#c" class="r" x="210" y="15"/><use href="#c" class="g" x="270" y="0"/><use href="#c" class="g" x="330" y="0"/><use href="#c" class="r" x="360" y="15"/><use href="#c" class="y" x="420" y="30"/><use href="#c" class="r" x="450" y="15"/><use href="#c" class="g" x="480" y="0"/><use href="#c" class="y" x="510" y="30"/><use href="#c" class="y" x="540" y="30"/><use href="#c" class="y" x="600" y="30"/><use href="#c" class="y" x="660" y="30"/><use href="#c" class="g" x="690" y="0"/><use href="#c" class="r" x="720" y="15"/><use href="#c" class="y" x="750" y="30"/><use href="#c" class="y" x="780" y="30"/><use href="#c" class="y" x="840" y="30"/><use href="#c" class="o" x="900" y="60"/><use href="#c" class="g" x="930" y="0"/>
<rect class="pk" x="808" y="0" width="10" height="61"/><rect class="od" x="818" y="0" width="142" height="61"/>
</g>

<g id="row30" transform="translate(31.5,4294.5)" class="t">
<use href="#grid"/>
<text class="tp" x="0" y="-19.5"><tspan class="q">♩</tspan>=132</text>
<text class="tp" x="240" y="-19.5"><tspan class="q">♩</tspan>=132</text>
<text class="tp" x="480" y="-19.5"><tspan class="q">♩</tspan>=132</text>
<text class="tp" x="720" y="-19.5"><tspan class="q">♩</tspan>=132</text>
<text class="mn" x="0" y="-7.5">117</text><text class="mn" x="240" y="-7.5">118</text><text class="mn" x="480" y="-7.5">119</text><text class="mn" x="720" y="-7.5">120</text>
<text class="sc" y="76.5"><tspan class="s1" x="238.5">191</tspan><tspan class="s2" x="238.5" dy="13">115655</tspan><tspan class="s3" x="238.5" dy="13">0.00%</tspan></text>
<text class="sc" y="76.5"><tspan class="s1" x="478.5">209</tspan><tspan class="s2" x="478.5" dy="13">116641</tspan><tspan class="s3" x="478.5" dy="13">0.00%</tspan></text>
<text class="sc" y="76.5"><tspan class="s1" x="718.5">152</tspan><tspan class="s2" x="718.5" dy="13">116637</tspan><tspan class="s3" x="718.5" dy="13">0.00%</tspan></text>
<text class="sc" y="76.5"><tspan class="s1" x="958.5">193</tspan><tspan class="s2" x="958.5" dy="13">118753</tspan><tspan class="s3" x="958.5" dy="13">0.00%</tspan></text>
<rect class="r" x="69" y="11.5" width="36" height="7"/><rect class="r" x="120" y="11.5" width="45" height="7"/><rect class="r" x="240" y="11.5" width="45" height="7"/><rect class="y" x="480" y="26.5" width="45" height="7"/><rect class="y" x="540" y="26.5" width="45" height="7"/><rect class="y" x="600" y="26.5" width="45" height="7"/><rect class="r" x="780" y="11.5" width="90" height="7"/><rect class="y" x="840" y="26.5" width="45" height="7"/>
<use href="#c" class="g" x="0" y="0"/><use href="#c" class="r" x="30" y="15"/><use href="#c" class="g" x="60" y="0"/><use href="#c" class="r" x="69" y="15"/><use href="#c" class="r" x="120" y="15"/><use href="#c" class="r" x="180" y="15"/><use href="#c" class="g" x="210" y="0"/><use href="#c" class="r" x="240" y="15"/><use href="#c" class="r" x="300" y="15"/><use href="#c" class="r" x="330" y="15"/><use href="#c" class="b" x="345" y="45"/><use href="#c" class="o" x="360" y="60"/><use href="#c" class="b" x="390" y="45"/><use href="#c" class="y" x="420" y="30"/><use href="#c" class="r" x="450" y="15"/><use href="#c" class="y" x="480" y="30"/><use href="#c" class="y" x="540" y="30"/><use href="#c" class="y" x="600" y="30"/><use href="#c" class="y" x="660" y="30"/><use href="#c" class="g" x="690" y="0"/><use href="#c" class="r" x="720" y="15"/><use href="#c" class="y" x="750" y="30"/><use href="#c" class="r" x="780" y="15"/><use href="#c" class="y" x="840" y="30"/><use href="#c" class="b" x="900" y="45"/><use href="#c" class="b" x="930" y="45"/>
<rect class="od" x="0" y="0" width="960" height="61"/><rect class="pk" x="905" y="0" width="12" height="61"/>
</g>

<g id="row31" transform="translate(31.5,4435.5)" class="t">
<use href="#grid1"/>
<text class="tp" x="0" y="-19.5"><tspan class="q">♩</tspan>=132</text>
<text class="mn" x="0" y="-7.5">121</text>
<text class="sc" y="76.5"><tspan class="s1" x="238.5">144</tspan><tspan class="s2" x="238.5" dy="13">121629</tspan><tspan class="s3" x="238.5" dy="13">0.00%</tspan></text>
<rect class="b" x="0" y="41.5" width="60" height="7"/><rect class="b" x="120" y="41.5" width="60" height="7"/>
<use href="#c" class="b" x="0" y="45"/><use href="#c" class="b" x="90" y="45"/><use href="#c" class="b" x="120" y="45"/><use href="#c" class="b" x="210" y="45"/>
</g>
</g>
</svg>
